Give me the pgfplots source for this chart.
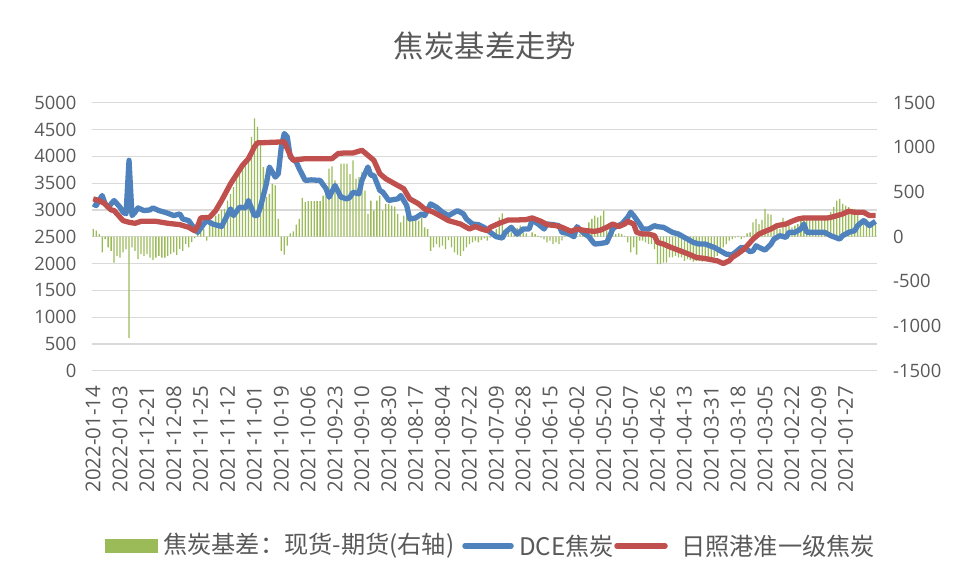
\documentclass[border=0pt]{standalone}
\usepackage{pgfplots}
\pgfplotsset{compat=1.18}
\usepackage{pgfplotstable}
\usepackage{fontspec}
\setmainfont{Open Sans}
\newfontfamily\cjk{Noto Sans CJK SC}
\definecolor{cgreen}{RGB}{155,187,89}
\definecolor{cblue}{RGB}{79,129,189}
\definecolor{cred}{RGB}{192,80,77}
\definecolor{ctext}{RGB}{89,89,89}
\definecolor{cgrid}{RGB}{217,217,217}

\pgfplotstableread{
i v
0 86
1 68
2 30
3 -176
4 -26
5 -120
6 -158
7 -289
8 -214
9 -233
10 -176
11 -139
12 -1132
13 -120
14 -158
15 -251
16 -195
17 -214
18 -195
19 -233
20 -263
21 -233
22 -214
23 -233
24 -233
25 -214
26 -195
27 -176
28 -203
29 -139
30 -158
31 -80
32 -120
33 -60
34 -15
35 30
36 50
37 86
38 -45
39 142
40 180
41 236
42 255
43 300
44 311
45 405
46 480
47 555
48 667
49 724
50 780
51 799
52 911
53 1117
54 1324
55 1230
56 1024
57 780
58 442
59 480
60 592
61 574
62 199
63 -158
64 -202
65 -101
66 37
67 60
68 135
69 199
70 435
71 386
72 397
73 397
74 397
75 397
76 397
77 461
78 517
79 761
80 787
81 630
82 555
83 817
84 817
85 817
86 700
87 855
88 649
89 667
90 724
91 517
92 255
93 405
94 292
95 405
96 461
97 292
98 367
99 367
100 349
101 337
102 255
103 161
104 236
105 274
106 180
107 180
108 236
109 180
110 217
111 105
112 86
113 -158
114 -120
115 -82
116 -120
117 -101
118 -139
119 -37
120 -120
121 -176
122 -202
123 -214
124 -158
125 -120
126 -82
127 -64
128 -45
129 -64
130 -37
131 -20
132 -45
133 -10
134 30
135 86
136 217
137 262
138 67
139 86
140 49
141 67
142 100
143 124
144 49
145 37
146 0
147 49
148 30
149 10
150 -10
151 -30
152 -64
153 -45
154 -82
155 -64
156 -82
157 -40
158 10
159 30
160 0
161 30
162 10
163 30
164 49
165 86
166 161
167 199
168 236
169 217
170 236
171 292
172 67
173 86
174 49
175 30
176 37
177 30
178 10
179 -64
180 -176
181 -120
182 -202
183 -45
184 -45
185 -64
186 -82
187 -82
188 -139
189 -307
190 -307
191 -289
192 -289
193 -232
194 -232
195 -214
196 -232
197 -232
198 -270
199 -251
200 -263
201 -278
202 -270
203 -270
204 -278
205 -263
206 -263
207 -251
208 -232
209 -214
210 -176
211 -120
212 -82
213 -45
214 -26
215 -10
216 10
217 -26
218 -8
219 37
220 49
221 161
222 199
223 142
224 187
225 311
226 255
227 247
228 124
229 105
230 86
231 210
232 161
233 124
234 105
235 124
236 142
237 180
238 236
239 236
240 236
241 236
242 236
243 236
244 236
245 236
246 236
247 274
248 330
249 405
250 424
251 367
252 349
253 330
254 311
255 311
256 255
257 180
258 161
259 199
260 161
261 142
262 142
}\basis

\pgfplotstableread{
i v
0 3112
1 3081
3 3269
4 3112
5 3050
7 3175
9 3050
10 2956
11 2925
12 3925
13 2894
14 2956
15 3037
17 2987
19 3000
20 3037
22 2987
24 2956
25 2937
27 2894
29 2925
30 2831
32 2800
34 2644
35 2581
37 2737
38 2800
40 2737
42 2706
43 2690
46 3019
47 2894
49 3050
51 3037
52 3175
54 2894
55 2894
56 3050
58 3487
59 3800
61 3612
62 3675
63 4175
64 4425
65 4360
66 3987
68 3894
69 3769
71 3550
73 3560
76 3550
78 3394
79 3237
81 3456
83 3237
85 3206
86 3237
87 3330
89 3300
90 3550
92 3800
93 3644
94 3644
96 3362
97 3331
99 3175
100 3187
102 3206
103 3269
105 3081
106 2831
108 2850
110 2925
111 2894
113 3112
115 3050
117 2956
119 2894
122 2987
124 2925
125 2831
127 2737
129 2725
131 2670
133 2581
135 2500
137 2475
138 2581
140 2675
141 2612
142 2550
144 2644
146 2644
147 2812
149 2737
151 2644
152 2737
154 2725
156 2706
157 2581
159 2562
161 2500
162 2687
164 2581
166 2500
167 2425
168 2362
170 2375
172 2394
173 2519
174 2644
175 2690
177 2737
179 2862
180 2956
181 2894
183 2737
184 2644
186 2644
188 2706
189 2687
191 2675
193 2612
194 2581
196 2550
198 2487
199 2456
201 2394
203 2362
205 2362
208 2300
210 2237
212 2175
214 2162
215 2206
217 2300
218 2300
220 2220
221 2237
222 2331
223 2300
225 2250
227 2362
228 2456
230 2519
232 2487
233 2581
235 2581
237 2644
238 2737
239 2581
242 2581
245 2581
247 2519
250 2456
251 2519
253 2581
255 2612
256 2706
258 2800
260 2706
261 2750
262 2787
}\dce

\pgfplotstableread{
i v
0 3206
2 3175
4 3112
6 3000
7 2987
9 2862
10 2800
12 2769
14 2750
16 2787
21 2787
25 2750
29 2725
32 2675
34 2610
35 2700
36 2850
39 2862
41 2987
43 3175
46 3487
50 3831
52 3956
54 4175
55 4250
64 4270
66 4019
67 3925
71 3956
80 3956
82 4050
84 4062
87 4062
90 4112
92 4019
94 3925
96 3675
98 3581
101 3487
104 3394
106 3206
108 3144
109 3112
111 3019
114 2956
116 2894
119 2800
123 2737
126 2644
128 2690
130 2644
132 2612
133 2675
136 2750
139 2812
142 2812
145 2819
147 2850
150 2787
152 2725
155 2706
157 2675
160 2600
162 2644
165 2612
168 2600
170 2625
172 2675
174 2737
176 2690
178 2737
179 2787
181 2737
182 2581
184 2550
186 2550
188 2519
189 2394
191 2362
193 2312
195 2269
198 2206
200 2162
202 2112
204 2100
206 2081
209 2050
211 2000
213 2050
214 2112
216 2187
218 2269
219 2330
221 2456
223 2550
225 2600
227 2644
229 2706
232 2737
234 2787
236 2831
238 2850
246 2850
248 2875
251 2925
253 2975
255 2956
258 2956
260 2894
262 2894
}\rz

\begin{document}
\begin{tikzpicture}
\path[use as bounding box] (0,0) rectangle (956bp,-580bp);
\pgfplotsset{every axis/.append style={at={(91.7bp,-370.7bp)}, anchor=south west,
  width=785.3bp, height=268bp, scale only axis, xmin=-0.5, xmax=262.5,
  /pgf/number format/assume math mode=true, /pgf/number format/1000 sep={},
  scaled y ticks=false, major tick length=0pt, axis line style={draw=none},
  tick label style={text=ctext, inner sep=0pt, font=\fontsize{18.5}{18.5}\selectfont}}}
% grid, left labels, date labels
\begin{axis}[ymin=0, ymax=5000, ytick={0,500,...,5000},
  ymajorgrids, grid style={cgrid, line width=1.2bp},
  xtick={0,9,...,252},
  xticklabels={2022-01-14,2022-01-03,2021-12-21,2021-12-08,2021-11-25,2021-11-12,2021-11-01,2021-10-19,2021-10-06,2021-09-23,2021-09-10,2021-08-30,2021-08-17,2021-08-04,2021-07-22,2021-07-09,2021-06-28,2021-06-15,2021-06-02,2021-05-20,2021-05-07,2021-04-26,2021-04-13,2021-03-31,2021-03-18,2021-03-05,2021-02-22,2021-02-09,2021-01-27},
  xticklabel style={rotate=90, anchor=east, font=\fontsize{20.5}{20.5}\selectfont},
  xticklabel shift=15bp,
  yticklabel style={anchor=east},
  yticklabel shift=15bp]
\addplot[draw=none] coordinates {(0,0)};
\end{axis}
% basis bars, right axis
\begin{axis}[ymin=-1500, ymax=1500, axis y line*=right, axis x line=none,
  ytick={-1500,-1000,...,1500},
  yticklabel style={anchor=west},
  yticklabel shift=16bp]
\addplot[ybar, bar width=1.3bp, fill=cgreen, draw=none] table[x=i, y=v] {\basis};
\end{axis}
% price lines
\begin{axis}[ymin=0, ymax=5000, hide axis]
\addplot[cblue, line width=5.3bp, line join=round] table[x=i, y=v] {\dce};
\addplot[cred, line width=5.3bp, line join=round] table[x=i, y=v] {\rz};
\end{axis}
% title
\node[text=ctext, font=\cjk\fontsize{30.5}{30.5}\selectfont] at (485bp,-46bp) {焦炭基差走势};
% legend
\fill[cgreen] (105bp,-539bp) rectangle (158bp,-553bp);
\node[anchor=west, inner sep=0pt, text=ctext, font=\cjk\fontsize{24.3}{24.3}\selectfont] at (163bp,-546bp) {焦炭基差：现货-期货(右轴)};
\draw[cblue, line width=5.5bp, line cap=round] (465bp,-546bp) -- (511bp,-546bp);
\node[anchor=west, inner sep=0pt, text=ctext, font=\cjk\fontsize{24.3}{24.3}\selectfont] at (519bp,-546bp) {DCE焦炭};
\draw[cred, line width=5.5bp, line cap=round] (617bp,-546bp) -- (665bp,-546bp);
\node[anchor=west, inner sep=0pt, text=ctext, font=\cjk\fontsize{24.3}{24.3}\selectfont] at (681bp,-546bp) {日照港准一级焦炭};
\end{tikzpicture}
\end{document}
